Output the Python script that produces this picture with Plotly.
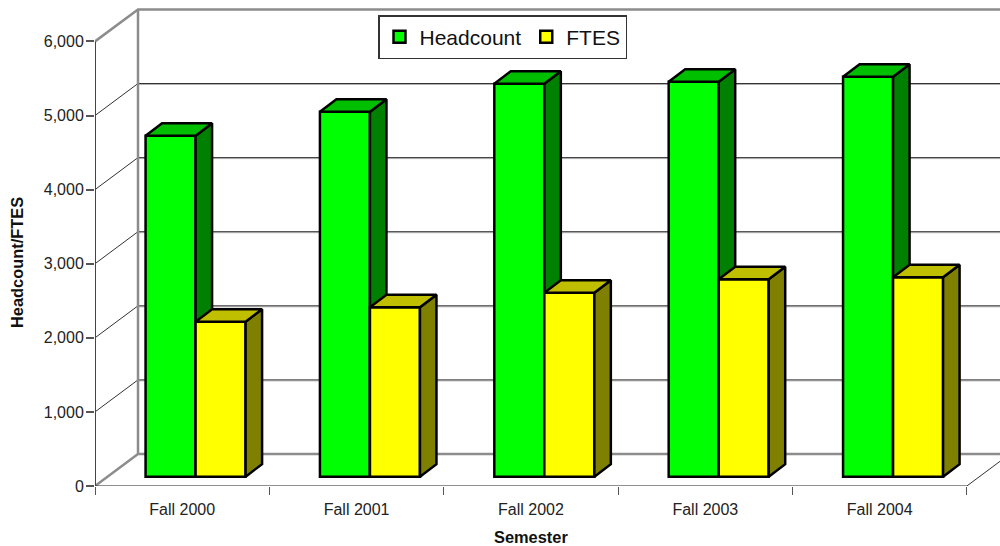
import plotly.graph_objects as go

semesters = ["Fall 2000", "Fall 2001", "Fall 2002", "Fall 2003", "Fall 2004"]
headcount = [4602, 4926, 5304, 5331, 5398]
ftes = [2092, 2287, 2483, 2665, 2692]
y_ticks = [0, 1000, 2000, 3000, 4000, 5000, 6000]
y_labels = ["0", "1,000", "2,000", "3,000", "4,000", "5,000", "6,000"]

LEFT, BOTTOM = 95, 486            # page position of the axis origin
PLOT_W = 905
PLOT_H = BOTTOM

# 3-D projection offsets expressed in axis units
X_MAX = 5.19
Y_MAX = 6559
WALL_DX = 0.2466     # depth of the chart box
WALL_DY = 432
GRID_SHADE = 13.5    # lighter lower edge of each wall gridline
BAR_GAP = 0.29       # left gap to first bar in a category
BAR_W = 0.2868
BAR_BASE = 126       # front of bars sits part-way into the floor
BAR_DX = 0.0946      # depth of a bar
BAR_DY = 169
GREEN, GREEN_SIDE, GREEN_TOP = "#00FF00", "#008000", "#00BF00"
YELLOW, YELLOW_SIDE, YELLOW_TOP = "#FFFF00", "#808000", "#BFBF00"
EDGE = 2.5
FONT = "Liberation Sans, Arial, sans-serif"

def line(xs, ys, color, width):
    return go.Scatter(x=xs, y=ys, mode="lines", line=dict(color=color, width=width),
                      showlegend=False, hoverinfo="skip")

def faces(values, slot):
    sx, sy, tx, ty = [], [], [], []
    for i, v in enumerate(values):
        l = i + BAR_GAP + slot * BAR_W
        r = l + BAR_W
        t = BAR_BASE + v
        sx += [r, r + BAR_DX, r + BAR_DX, r, r, None]
        sy += [BAR_BASE, BAR_BASE + BAR_DY, t + BAR_DY, t, BAR_BASE, None]
        tx += [l, l + BAR_DX, r + BAR_DX, r, l, None]
        ty += [t, t + BAR_DY, t + BAR_DY, t, t, None]
    return sx, sy, tx, ty

def series(name, values, slot, front, side, top, xa, ya):
    centres = [i + BAR_GAP + slot * BAR_W + BAR_W / 2 for i in range(len(values))]
    sx, sy, tx, ty = faces(values, slot)
    out = [go.Bar(x=centres, y=values, base=BAR_BASE, width=BAR_W, name=name, xaxis=xa, yaxis=ya,
                  marker=dict(color=front, line=dict(color="black", width=EDGE)))]
    for fx, fy, c in ((sx, sy, side), (tx, ty, top)):
        out.append(go.Scatter(x=fx, y=fy, mode="lines", fill="toself", fillcolor=c, xaxis=xa, yaxis=ya,
                              line=dict(color="black", width=EDGE), showlegend=False, hoverinfo="skip"))
    return out

fig = go.Figure()

# back wall and side wall
for v in y_ticks[1:-1]:
    fig.add_trace(line([WALL_DX, X_MAX], [v + WALL_DY - GRID_SHADE] * 2, "#b0b0b0", 1))
    fig.add_trace(line([WALL_DX, X_MAX], [v + WALL_DY] * 2, "#333333", 1))
    fig.add_trace(line([0, WALL_DX], [v, v + WALL_DY], "#333333", 1))
fig.add_trace(line([0, WALL_DX, X_MAX], [0, WALL_DY, WALL_DY], "#8c8c8c", 2.5))
fig.add_trace(line([0, WALL_DX, X_MAX], [6000, 6000 + WALL_DY, 6000 + WALL_DY], "#8c8c8c", 2.5))
fig.add_trace(line([WALL_DX, WALL_DX], [WALL_DY, 6000 + WALL_DY], "#8c8c8c", 2.5))
fig.add_trace(line([5, 5 + WALL_DX], [0, WALL_DY], "#333333", 1))
# front axis lines
fig.add_trace(go.Scatter(x=[0, 5], y=[0, 0], mode="lines", line=dict(color="#222222", width=1.2),
                         showlegend=False, hoverinfo="skip", cliponaxis=False))
fig.add_trace(go.Scatter(x=[0, 0], y=[0, 6000], mode="lines", line=dict(color="#444444", width=2),
                         showlegend=False, hoverinfo="skip", cliponaxis=False))

fig.add_traces(series("Headcount", headcount, 0, GREEN, GREEN_SIDE, GREEN_TOP, "x2", "y2"))
fig.add_traces(series("FTES", ftes, 1, YELLOW, YELLOW_SIDE, YELLOW_TOP, "x3", "y3"))

TF = dict(family=FONT, color="#222222", size=16)
overlay_x = dict(range=[0, X_MAX], visible=False, overlaying="x", fixedrange=True)
overlay_y = dict(range=[0, Y_MAX], visible=False, overlaying="y", fixedrange=True)

def page_x(px):
    return (px - LEFT) / PLOT_W

def page_y(px):
    return (BOTTOM - px) / PLOT_H

fig.update_layout(
    width=1000, height=546, autosize=False,
    margin=dict(l=LEFT, r=0, t=0, b=60),
    paper_bgcolor="white", plot_bgcolor="white",
    barmode="overlay", showlegend=True,
    font=TF,
    xaxis=dict(range=[0, X_MAX], tickmode="array", tickvals=[i + 0.5 for i in range(5)], ticktext=semesters,
               ticks="", showgrid=False, zeroline=False, showline=False, ticklabelstandoff=12,
               tickfont=TF,
               minor=dict(ticks="outside", ticklen=8, tickcolor="#555555", tickwidth=1, tick0=0, dtick=1, showgrid=False)),
    yaxis=dict(range=[0, Y_MAX], tickmode="array", tickvals=y_ticks, ticktext=y_labels,
               ticks="outside", ticklen=8, tickcolor="#555555", tickwidth=1.5, ticklabelstandoff=-1,
               showgrid=False, zeroline=False, showline=False, tickfont=TF),
    xaxis2=overlay_x, yaxis2=overlay_y, xaxis3=overlay_x, yaxis3=overlay_y,
    legend=dict(orientation="h", x=page_x(378), y=page_y(15), xanchor="left", yanchor="top",
                bgcolor="white", bordercolor="#333333", borderwidth=1.5,
                font=dict(family=FONT, size=21, color="#111111")),
    annotations=[
        dict(text="<b>Semester</b>", x=page_x(531), y=page_y(537), xref="paper", yref="paper",
             xanchor="center", yanchor="middle", showarrow=False, font=dict(size=16.4, color="#111111")),
        dict(text="<b>Headcount/FTES</b>", x=page_x(17), y=page_y(263), xref="paper", yref="paper",
             textangle=-90, xanchor="center", yanchor="middle", showarrow=False,
             font=dict(size=16.4, color="#111111")),
    ],
)

fig.write_html("out.html", config={"displayModeBar": False},
               post_script="document.body.style.margin='0';")
